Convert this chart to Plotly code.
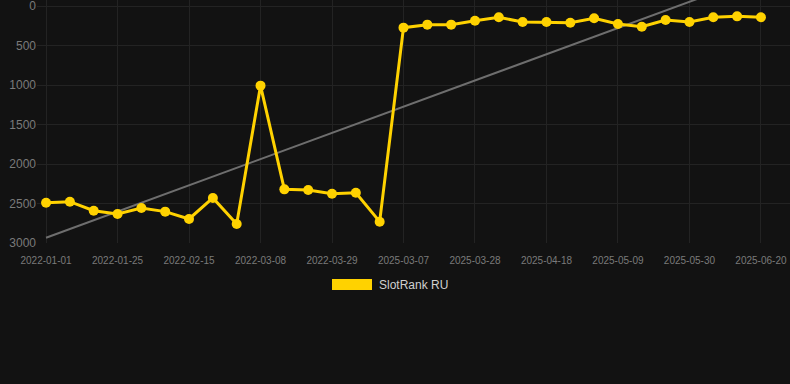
import numpy as np
import plotly.graph_objects as go

dates = [
    "2022-01-01", "2022-01-09", "2022-01-17", "2022-01-25", "2022-02-01",
    "2022-02-08", "2022-02-15", "2022-02-22", "2022-03-01", "2022-03-08",
    "2022-03-15", "2022-03-22", "2022-03-29", "2022-04-05", "2022-04-12",
    "2025-03-07", "2025-03-14", "2025-03-21", "2025-03-28", "2025-04-04",
    "2025-04-11", "2025-04-18", "2025-04-25", "2025-05-02", "2025-05-09",
    "2025-05-16", "2025-05-23", "2025-05-30", "2025-06-06", "2025-06-13",
    "2025-06-20",
]
ranks = [
    2490, 2477, 2591, 2633, 2557, 2603, 2696, 2430, 2759, 1008,
    2321, 2329, 2376, 2363, 2730,
    274, 236, 236, 186, 143, 203, 203, 211, 156, 228,
    262, 177, 203, 143, 131, 143,
]
tick_labels = dates[::3]
y_ticks = [0, 500, 1000, 1500, 2000, 2500, 3000]
series_name = "SlotRank RU"

idx = np.arange(len(ranks))
slope, intercept = np.polyfit(idx, ranks, 1)
trend = slope * idx + intercept

BG = "#121212"
GOLD = "#FFD200"

fig = go.Figure()
fig.add_trace(go.Scatter(
    x=dates, y=trend, mode="lines",
    line=dict(color="#6e6e6e", width=2),
    showlegend=False, hoverinfo="skip",
))
fig.add_trace(go.Scatter(
    x=dates, y=ranks, mode="lines+markers",
    line=dict(color=GOLD, width=3),
    marker=dict(color=GOLD, size=10),
    name=series_name, showlegend=False,
))

W, H = 790, 384
ml, mr, mt, mb = 37, 0, 0, 141
pw, ph = W - ml - mr, H - mt - mb

def px_x(x):
    return (x - ml) / pw

def px_y(y):
    return (H - mb - y) / ph

fig.add_shape(type="rect", xref="paper", yref="paper",
              x0=px_x(332), x1=px_x(372), y0=px_y(290), y1=px_y(279),
              fillcolor=GOLD, line=dict(width=0))
fig.add_annotation(xref="paper", yref="paper", x=px_x(377), y=px_y(285),
                   text=series_name, showarrow=False, xanchor="left",
                   yanchor="middle", font=dict(size=12, color="#d0d0d0"))

fig.update_layout(
    width=W, height=H,
    margin=dict(l=ml, r=mr, t=mt, b=mb, pad=0),
    paper_bgcolor=BG, plot_bgcolor=BG,
    font=dict(family="Liberation Sans, Arial, sans-serif", color="#7a7a7a"),
    showlegend=False,
)
fig.update_xaxes(
    type="category", categoryorder="array", categoryarray=dates,
    range=[-0.38, len(dates) - 1 + 1.22],
    tickmode="array", tickvals=tick_labels, ticktext=tick_labels,
    tickfont=dict(size=10, color="#7a7a7a"),
    ticklabelstandoff=10, ticklabeloverflow="allow",
    showgrid=True, gridcolor="#232323", gridwidth=1,
    zeroline=False, showline=False, ticks="",
)
fig.update_yaxes(
    range=[3000, -76], tickmode="array", tickvals=y_ticks,
    tickfont=dict(size=12, color="#7a7a7a"),
    ticklabeloverflow="allow",
    showgrid=True, gridcolor="#232323", gridwidth=1,
    zeroline=False, showline=False, ticks="",
)

fig.write_html(
    "out.html",
    config={"displayModeBar": False},
    post_script="document.body.style.margin='0';document.body.style.background='#121212';",
)
